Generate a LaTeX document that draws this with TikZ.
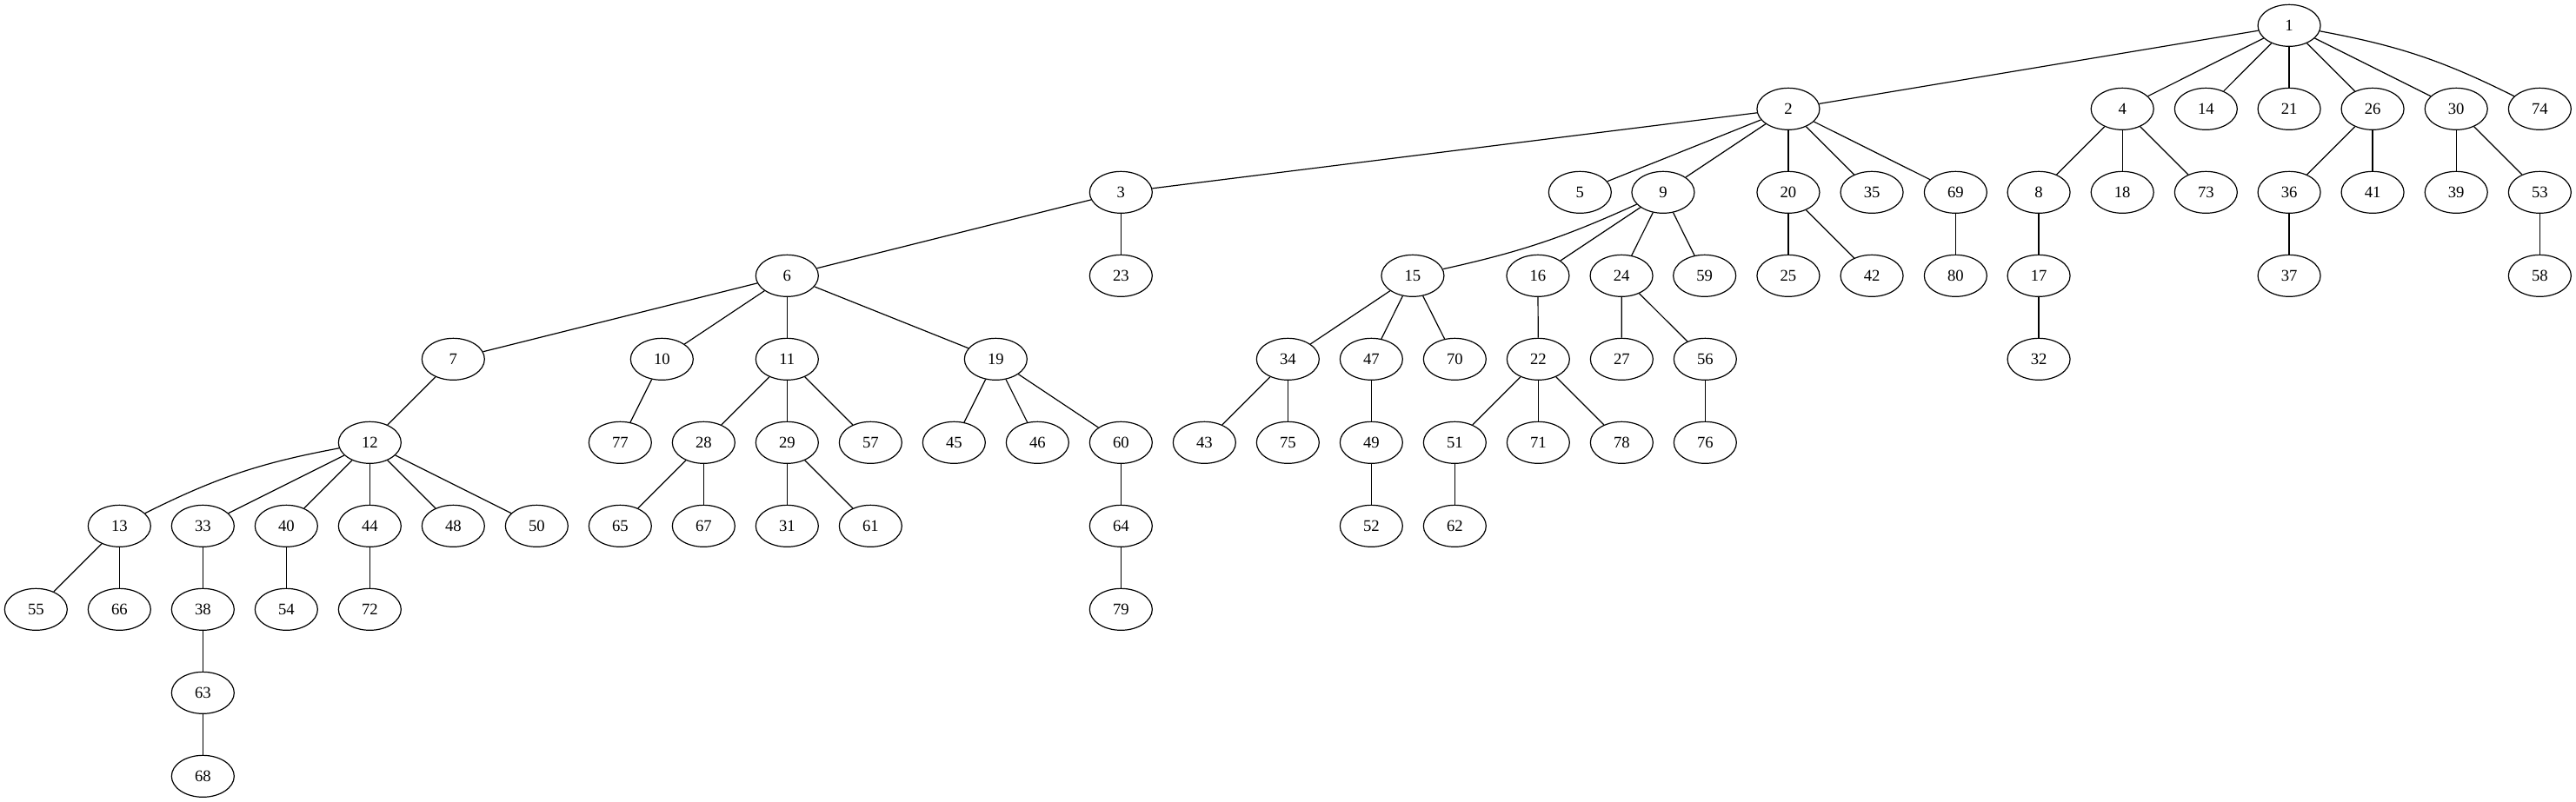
\documentclass[tikz,border=0pt]{standalone}
\usepackage{fontspec}
\setmainfont{Liberation Serif}
\usetikzlibrary{shapes.geometric}
\tikzset{
  nd/.style={draw, ellipse, line width=0.9pt, minimum width=54pt, minimum height=36pt, inner sep=0pt, font=\fontsize{14}{16}\selectfont},
  ed/.style={line width=0.9pt}
}
\newcommand\N[3]{\node[nd] (n#1) at (#2,#3) {#1};}
\begin{document}
\begin{tikzpicture}[x=1pt,y=1pt]
\useasboundingbox (0,0) rectangle (2222.25,-692.25);
% row 0
\N{1}{1974.8}{-22}
% row 1
\N{2}{1542.7}{-94}
\N{4}{1830.9}{-94}
\N{14}{1903}{-94}
\N{21}{1974.8}{-94}
\N{26}{2046.8}{-94}
\N{30}{2118.9}{-94}
\N{74}{2191}{-94}
% row 2
\N{3}{967}{-166}
\N{5}{1363}{-166}
\N{9}{1434.7}{-166}
\N{20}{1542.7}{-166}
\N{35}{1614.8}{-166}
\N{69}{1687}{-166}
\N{8}{1758.8}{-166}
\N{18}{1830.9}{-166}
\N{73}{1903}{-166}
\N{36}{1974.8}{-166}
\N{41}{2046.8}{-166}
\N{39}{2118.9}{-166}
\N{53}{2191}{-166}
% row 3
\N{6}{679}{-238}
\N{23}{967}{-238}
\N{15}{1218.7}{-238}
\N{16}{1326.7}{-238}
\N{24}{1398.8}{-238}
\N{59}{1470.5}{-238}
\N{25}{1542.7}{-238}
\N{42}{1614.8}{-238}
\N{80}{1687}{-238}
\N{17}{1758.8}{-238}
\N{37}{1974.8}{-238}
\N{58}{2191}{-238}
% row 4
\N{7}{391}{-310}
\N{10}{571}{-310}
\N{11}{679}{-310}
\N{19}{859}{-310}
\N{34}{1111}{-310}
\N{47}{1183}{-310}
\N{70}{1255}{-310}
\N{22}{1327}{-310}
\N{27}{1399}{-310}
\N{56}{1471}{-310}
\N{32}{1758.8}{-310}
% row 5
\N{12}{319}{-382}
\N{77}{535}{-382}
\N{28}{607}{-382}
\N{29}{679}{-382}
\N{57}{751}{-382}
\N{45}{823}{-382}
\N{46}{895}{-382}
\N{60}{967}{-382}
\N{43}{1039}{-382}
\N{75}{1111}{-382}
\N{49}{1183}{-382}
\N{51}{1255}{-382}
\N{71}{1327}{-382}
\N{78}{1399}{-382}
\N{76}{1471}{-382}
% row 6
\N{13}{103}{-454}
\N{33}{175}{-454}
\N{40}{247}{-454}
\N{44}{319}{-454}
\N{48}{391}{-454}
\N{50}{463}{-454}
\N{65}{535}{-454}
\N{67}{607}{-454}
\N{31}{679}{-454}
\N{61}{751}{-454}
\N{64}{967}{-454}
\N{52}{1183}{-454}
\N{62}{1255}{-454}
% row 7
\N{55}{31}{-526}
\N{66}{103}{-526}
\N{38}{175}{-526}
\N{54}{247}{-526}
\N{72}{319}{-526}
\N{79}{967}{-526}
% row 8
\N{63}{175}{-598}
% row 9
\N{68}{175}{-670}
% edges
\foreach \a/\b in {1/2,1/4,1/14,1/21,1/26,1/30,
  2/3,2/5,2/9,2/20,2/35,2/69,3/6,3/23,4/8,4/18,4/73,
  6/7,6/10,6/11,6/19,7/12,8/17,9/16,9/24,9/59,10/77,
  11/28,11/29,11/57,12/33,12/40,12/44,12/48,12/50,
  13/55,13/66,15/34,15/47,15/70,16/22,17/32,19/45,19/46,19/60,
  20/25,20/42,22/51,22/71,22/78,24/27,24/56,26/36,26/41,
  28/65,28/67,29/31,29/61,30/39,30/53,33/38,34/43,34/75,
  36/37,38/63,40/54,44/72,47/49,49/52,51/62,53/58,56/76,
  60/64,63/68,64/79,69/80}
  \draw[ed] (n\a) -- (n\b);
\draw[ed] (n1) to[bend left=8] (n74);
\draw[ed] (n12) to[bend right=8] (n13);
\draw[ed] (n9) to[bend left=6] (n15);
\end{tikzpicture}
\end{document}
